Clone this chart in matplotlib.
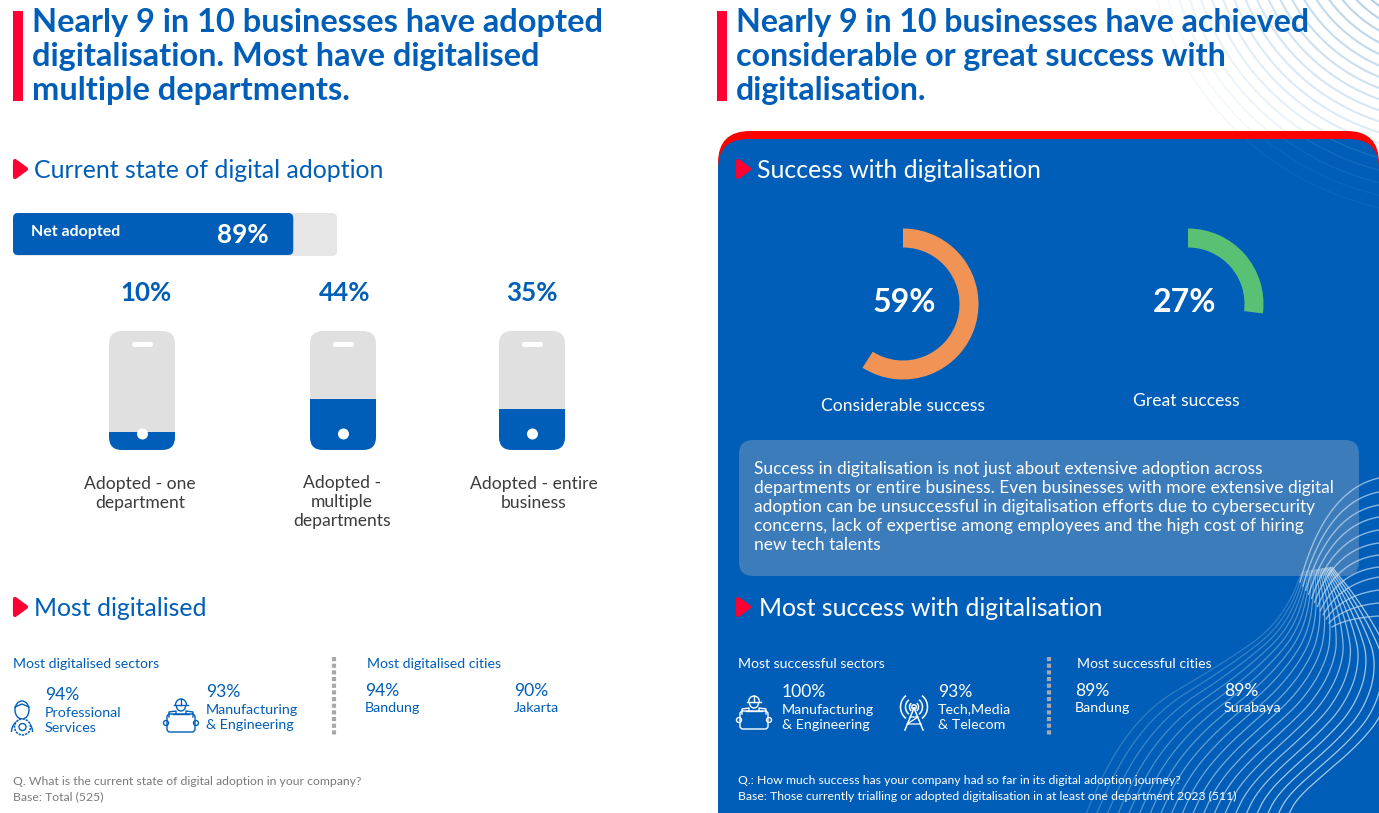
import numpy as np
import matplotlib
matplotlib.use('Agg')
import matplotlib.pyplot as plt
from matplotlib.patches import FancyBboxPatch, Rectangle, Wedge, Polygon, Circle, Ellipse, Arc

# chart values
phone_labels = [['Adopted - one', 'department'], ['Adopted -', 'multiple', 'departments'], ['Adopted - entire', 'business']]
phone_values = ['10%', '44%', '35%']
phone_fill = [0.15, 0.43, 0.345]  # height of the blue part as drawn
net_label = 'Net adopted'
net_value = '89%'
net_fill = 0.865
donut_labels = ['Considerable success', 'Great success']
donut_values = [59, 27]
donut_colors = ['#F09354', '#58C173']

BLUE = '#005EB8'
RED = '#FF0033'
FONT = 'Lato'

plt.rcParams['font.family'] = FONT
fig = plt.figure(figsize=(13.79, 8.13), dpi=100)
ax = fig.add_axes([0, 0, 1, 1])
ax.set_xlim(0, 1379)
ax.set_ylim(813, 0)
ax.axis('off')


def txt(x, y, s, px, color=BLUE, weight='normal', ha='left'):
    return ax.text(x, y + px * 0.07, s, fontsize=px * 0.72, color=color, weight=weight, ha=ha, va='center', zorder=10)


def box(x, y, w, h, r, **kw):
    p = FancyBboxPatch((x + r, y + r), w - 2 * r, h - 2 * r, boxstyle='round,pad=%f,rounding_size=%f' % (r, r),
                       linewidth=0, **kw)
    ax.add_patch(p)
    return p


def arrow(x, y):
    ax.add_patch(Polygon([[x + 2, y - 8], [x + 13, y], [x + 2, y + 8]], closed=True, fc=RED, ec=RED, lw=3,
                         joinstyle='round', zorder=9))


def worker_icon(x, y, c):
    # man with helmet holding a plan
    ax.add_patch(Arc((x + 16, y + 7), 11, 12, theta1=180, theta2=360, ec=c, lw=1, zorder=9))
    ax.plot([x + 9, x + 23], [y + 7, y + 7], color=c, lw=1, zorder=9)
    ax.plot([x + 16, x + 16], [y + 1, y + 7], color=c, lw=1, zorder=9)
    ax.add_patch(Arc((x + 16, y + 8), 9, 10, theta1=0, theta2=180, ec=c, lw=1, zorder=9))
    ax.plot([x + 4, x + 4, x + 11, x + 11], [y + 19, y + 14, y + 13, y + 16], color=c, lw=1, zorder=9)
    ax.plot([x + 28, x + 28, x + 21, x + 21], [y + 19, y + 14, y + 13, y + 16], color=c, lw=1, zorder=9)
    ax.plot([x + 8, x + 24], [y + 16, y + 16], color=c, lw=1, zorder=9)
    ax.add_patch(FancyBboxPatch((x + 2, y + 16), 28, 18, boxstyle='round,pad=0,rounding_size=3', fc='none', ec=c, lw=1,
                                zorder=9))
    ax.add_patch(Circle((x + 1, y + 25), 2.5, fc='none', ec=c, lw=1, zorder=9))
    ax.add_patch(Circle((x + 31, y + 25), 2.5, fc='none', ec=c, lw=1, zorder=9))


def person_icon(x, y, c):
    ax.add_patch(Ellipse((x + 10, y + 10), 14, 18, fc='none', ec=c, lw=1, zorder=9))
    ax.plot([x + 3, x + 10, x + 17], [y + 7, y + 4, y + 7], color=c, lw=1, zorder=9)
    ax.add_patch(Arc((x + 10, y + 32), 21, 24, theta1=180, theta2=270, ec=c, lw=1, zorder=9))
    ax.add_patch(Arc((x + 10, y + 32), 21, 24, theta1=270, theta2=360, ec=c, lw=1, zorder=9))
    ax.add_patch(Circle((x + 10.5, y + 27), 8, fc='white', ec=c, lw=1.1, ls=(0, (1.5, 0.7)), zorder=9))
    ax.add_patch(Circle((x + 10.5, y + 27), 3.5, fc='none', ec=c, lw=1, zorder=9))


def tower_icon(x, y, c):
    ax.plot([x + 15, x + 6], [y + 14, y + 36], color=c, lw=1.1, zorder=9)
    ax.plot([x + 15, x + 24], [y + 14, y + 36], color=c, lw=1.1, zorder=9)
    ax.plot([x + 11, x + 19, x + 8, x + 22], [y + 23, y + 23, y + 30, y + 30], color=c, lw=0.9, zorder=9)
    ax.add_patch(Circle((x + 15, y + 13), 2.2, fc='none', ec=c, lw=1.1, zorder=9))
    for r in [9, 17, 27]:
        ax.add_patch(Arc((x + 15, y + 13), r, r * 1.05, theta1=125, theta2=235, ec=c, lw=1.1, zorder=9))
        ax.add_patch(Arc((x + 15, y + 13), r, r * 1.05, theta1=-55, theta2=55, ec=c, lw=1.1, zorder=9))


# top right rings
a = np.linspace(np.pi * 0.5, np.pi, 200)
for i, r in enumerate(np.linspace(60, 300, 24)):
    ax.plot(1445 + r * np.cos(a), -85 + r * np.sin(a), color='#8DBBDD', lw=1.5, alpha=max(0.08, 0.85 - i * 0.035), zorder=1)

# right hand panel
box(718, 131, 661, 760, 32, fc='#FF0000', zorder=2)
panel = box(718, 139, 661, 760, 30, fc=BLUE, zorder=3)
for i, r in enumerate(np.linspace(130, 300, 15)):
    ln, = ax.plot(1445 + r * np.cos(a), -85 + r * np.sin(a), color='white', lw=1, alpha=max(0.04, 0.3 - i * 0.02), zorder=4)
    ln.set_clip_path(panel)
box(739, 440, 620, 136, 14, fc='#3C7CBB', zorder=4)

# bottom right waves, blended between an inner and an outer outline
outer_x = np.array([1328, 1345, 1362, 1372, 1360, 1333, 1295, 1270, 1260])
outer_y = np.array([568, 595, 630, 663, 705, 737, 770, 795, 816])
inner_x = np.array([1302, 1290, 1268, 1235, 1195, 1160, 1130, 1105, 1085])
inner_y = np.array([572, 602, 632, 655, 680, 700, 730, 770, 816])
knots = np.arange(9)
fine = np.linspace(0, 8, 300)
win = 41


def soften(v):
    s = np.interp(fine, knots, v)
    return np.convolve(np.pad(s, win // 2, mode='reflect', reflect_type='odd'), np.ones(win) / win, mode='valid')


ox, oy, ix, iy = soften(outer_x), soften(outer_y), soften(inner_x), soften(inner_y)
for k in np.linspace(0, 1.16, 20):
    wx = ix + (ox - ix) * k
    wy = iy + (oy - iy) * k
    ax.plot(wx, wy, color='#D5E8F7', lw=0.9, alpha=0.22 + 0.55 * min(k, 1), zorder=5)

# fan of lines leaving the ridge towards the right edge
fan_end_y = [478, 492, 505, 517, 530, 543, 555, 567, 577, 590, 603, 616]
t = np.linspace(0, 1, 60)
for i, ey in enumerate(fan_end_y):
    f = i / (len(fan_end_y) - 1)
    p0 = (1300 + 32 * f, 582 + 45 * f)
    p1 = (1325 + 22 * f, 490 + 128 * f)
    fx = (1 - t) ** 2 * p0[0] + 2 * t * (1 - t) * p1[0] + t ** 2 * 1379
    fy = (1 - t) ** 2 * p0[1] + 2 * t * (1 - t) * p1[1] + t ** 2 * ey
    ax.plot(fx, fy, color='#BFDCF2', lw=1.0, alpha=0.7, zorder=5)

# title blocks
ax.add_patch(Rectangle((13, 11), 10, 90, fc=RED, lw=0))
ax.add_patch(Rectangle((717, 11), 10, 90, fc=RED, lw=0))
for i, s in enumerate(['Nearly 9 in 10 businesses have adopted', 'digitalisation. Most have digitalised', 'multiple departments.']):
    txt(32, 20 + 34 * i, s, 32.5, weight='bold')
for i, s in enumerate(['Nearly 9 in 10 businesses have achieved', 'considerable or great success with', 'digitalisation.']):
    txt(736, 20 + 34 * i, s, 32.2, weight='bold')

# section headers
for x, y, s, c, tx, px in [(13, 169, 'Current state of digital adoption', BLUE, 34, 24.9), (13, 607, 'Most digitalised', BLUE, 34, 24.9),
                           (736, 169, 'Success with digitalisation', 'white', 757, 24.9),
                           (736, 607, 'Most success with digitalisation', 'white', 759, 24.8)]:
    arrow(x, y)
    txt(tx, y - 0.5, s, px, color=c)

# net adopted bar
box(13, 213, 324, 43, 5, fc='#E6E6E6')
box(13, 213, 324 * net_fill, 42, 5, fc=BLUE)
txt(31, 231, net_label, 16, color='white', weight='bold')
txt(243, 233, net_value, 26, color='white', weight='bold', ha='center')

# phones
phone_x = [109, 310, 499]
value_x = [146, 345, 532]
label_x = [140, 342, 534]
for i in range(3):
    x = phone_x[i]
    body = box(x, 331, 66, 119, 13, fc='#E0E0E0', zorder=3)
    fh = 119 * phone_fill[i]
    bar = ax.bar(x + 33, fh, width=66, bottom=450 - fh, color=BLUE, zorder=4)
    bar[0].set_clip_path(body)
    box(x + 23, 342, 21, 5, 2.5, fc='white', zorder=5)
    ax.add_patch(Ellipse((x + 33.5, 434), 11, 11, fc='white', lw=0, zorder=5))
    txt(value_x[i], 291, phone_values[i], 26, weight='bold', ha='center')
    n = len(phone_labels[i])
    y0 = 481.5 if n == 3 else 483
    for j, s in enumerate(phone_labels[i]):
        txt(label_x[i], y0 + (19 if n == 3 else 18.5) * j, s, 17.5, color='#3C3C3C', ha='center')

# lower left block
txt(13, 663.5, 'Most digitalised sectors', 14.1)
txt(367, 663.5, 'Most digitalised cities', 14.1)
ax.plot([334, 334], [657, 737], color='#A8A8A8', lw=3, ls=(0, (1, 0.6)), zorder=6)
person_icon(12, 700, BLUE)
worker_icon(165, 698, BLUE)
txt(45, 694, '94%', 17.5)
txt(45, 711.5, 'Professional', 14.3)
txt(45, 726.5, 'Services', 14.3)
txt(206, 691, '93%', 17.5)
txt(206, 708.5, 'Manufacturing', 14.3)
txt(206, 723.5, '& Engineering', 14.3)
txt(365, 690, '94%', 17.5)
txt(365, 706.5, 'Bandung', 14.3)
txt(514, 690, '90%', 17.5)
txt(514, 706.5, 'Jakarta', 14.3)
txt(13, 781, 'Q. What is the current state of digital adoption in your company?', 12.2, color='#7A7A7A')
txt(13, 796, 'Base: Total (525)', 12.2, color='#7A7A7A')

# donuts
donut_x = [903, 1188]
text_x = [904, 1185]
label_y = [404.5, 400]
label_cx = [903, 1186]
for i in range(2):
    ax.add_patch(Wedge((donut_x[i], 304), 75.5, -90, -90 + 3.6 * donut_values[i], width=19, fc=donut_colors[i], lw=0, zorder=6))
    txt(text_x[i], 300, '%d%%' % donut_values[i], 32, color='white', weight='bold', ha='center')
    txt(label_cx[i], label_y[i], donut_labels[i], 17.5, color='white', ha='center')

box_lines = ['Success in digitalisation is not just about extensive adoption across',
             'departments or entire business. Even businesses with more extensive digital',
             'adoption can be unsuccessful in digitalisation efforts due to cybersecurity',
             'concerns, lack of expertise among employees and the high cost of hiring',
             'new tech talents']
for i, s in enumerate(box_lines):
    txt(754, 468 + 19 * i, s, 17.4, color='white')

# lower right block
txt(738, 663.5, 'Most successful sectors', 14.1, color='white')
txt(1077, 663.5, 'Most successful cities', 14.1, color='white')
ax.plot([1049, 1049], [657, 737], color='#A8A8A8', lw=3, ls=(0, (1, 0.6)), zorder=6)
worker_icon(738, 695, 'white')
tower_icon(899, 694, 'white')
txt(782, 691, '100%', 17.5, color='white')
txt(782, 708.5, 'Manufacturing', 14.3, color='white')
txt(782, 723.5, '& Engineering', 14.3, color='white')
txt(938, 691, '93%', 17.5, color='white')
txt(938, 708.5, 'Tech,Media', 14.3, color='white')
txt(938, 723.5, '& Telecom', 14.3, color='white')
txt(1075, 690, '89%', 17.5, color='white')
txt(1075, 706.5, 'Bandung', 14.3, color='white')
txt(1224, 690, '89%', 17.5, color='white')
txt(1224, 706.5, 'Surabaya', 14.3, color='white')
txt(738, 780, 'Q.: How much success has your company had so far in its digital adoption journey?', 12.2, color='white')
txt(738, 796, 'Base: Those currently trialling or adopted digitalisation in at least one department 2023 (511)', 12.2, color='white')

fig.savefig('out.png', dpi=100)
